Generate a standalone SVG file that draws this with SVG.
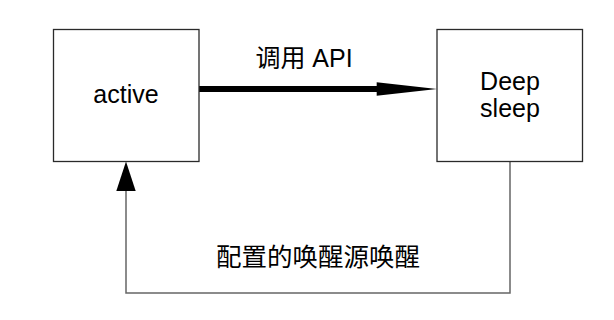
<svg xmlns="http://www.w3.org/2000/svg" width="614" height="320" viewBox="0 0 614 320">
<style>
.node{fill:#fff;stroke:#2a2a2a;stroke-width:1.3}
.t{font-family:"Liberation Sans","Noto Sans CJK SC",sans-serif;font-size:25px;fill:#000;text-anchor:middle}
.c{font-family:"Liberation Sans","Noto Sans CJK SC",sans-serif;font-size:25.5px;fill:#000;text-anchor:middle}
.wire{fill:none;stroke:#666;stroke-width:1.5}
.head{fill:#000}
</style>
<rect width="614" height="320" fill="#fff"/>
<g id="connectors">
<g id="edge-active-deep">
<rect x="199" y="86" width="178" height="6" fill="#000"/>
<path class="head" d="M376.7 82.3 L437 89 L376.7 95.7 Z"/>
<text class="t" x="304" y="67">调用 API</text>
</g>
<g id="edge-deep-active">
<path class="wire" d="M510 161 V293 H126 V191"/>
<path class="head" d="M116.3 191 L126 161.5 L135.7 191 Z"/>
<text class="c" x="318" y="266">配置的唤醒源唤醒</text>
</g>
</g>
<g id="active">
<rect class="node" x="53.5" y="29.5" width="145.5" height="132"/>
<text class="t" x="126" y="103">active</text>
</g>
<g id="deep-sleep">
<rect class="node" x="437" y="29.5" width="145.5" height="132"/>
<text class="t" x="510" y="90">Deep</text>
<text class="t" x="510" y="117">sleep</text>
</g>
</svg>
